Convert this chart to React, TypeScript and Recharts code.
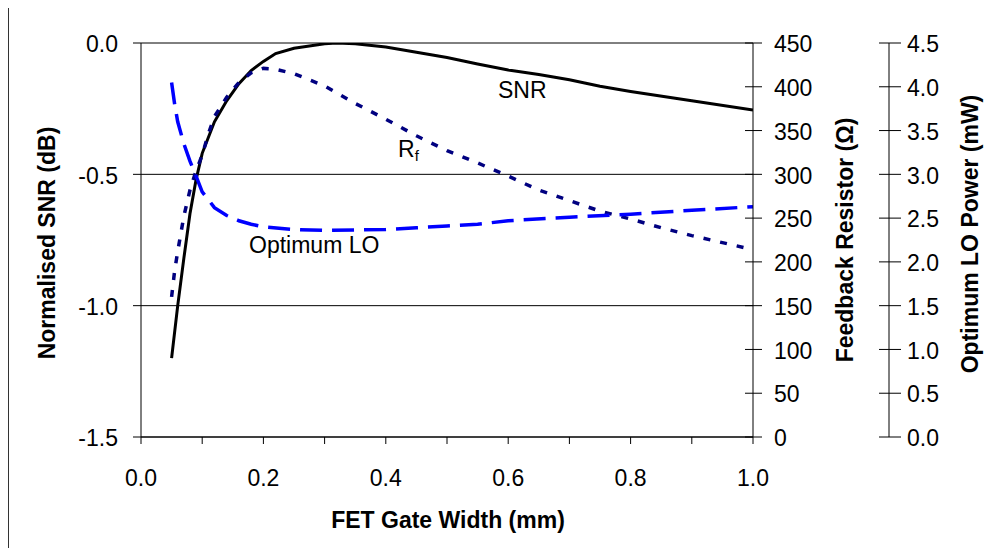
import { CartesianGrid, ComposedChart, Line, XAxis, YAxis } from 'recharts';

// FET gate width (mm) vs normalised SNR, feedback resistor and optimum LO power
const snrWidth = [0.05, 0.06, 0.07, 0.08, 0.09, 0.1, 0.12, 0.14, 0.16, 0.18, 0.2, 0.22, 0.25, 0.3, 0.32, 0.35, 0.4, 0.45, 0.5, 0.55, 0.6, 0.65, 0.7, 0.75, 0.8, 0.9, 1.0];
const snrDb = [-1.2, -1.0, -0.82, -0.65, -0.52, -0.42, -0.3, -0.22, -0.155, -0.105, -0.07, -0.04, -0.02, -0.003, 0.0, -0.003, -0.015, -0.035, -0.055, -0.08, -0.103, -0.12, -0.14, -0.165, -0.185, -0.22, -0.255];

const rfWidth = [0.05, 0.055, 0.06, 0.065, 0.07, 0.08, 0.09, 0.1, 0.11, 0.12, 0.14, 0.16, 0.18, 0.2, 0.22, 0.25, 0.3, 0.35, 0.4, 0.45, 0.5, 0.55, 0.6, 0.65, 0.7, 0.75, 0.8, 0.85, 0.9, 0.95, 1.0];
const rfOhm = [160, 190, 212, 232, 252, 282, 304, 322, 346, 366, 388, 405, 416, 421, 420, 415, 401, 381, 363, 344, 327, 313, 298, 282, 270, 258, 249, 239, 230, 222, 214];

const loWidth = [0.05, 0.055, 0.06, 0.07, 0.08, 0.09, 0.1, 0.12, 0.14, 0.16, 0.18, 0.2, 0.25, 0.3, 0.35, 0.4, 0.45, 0.5, 0.55, 0.6, 0.7, 0.8, 0.9, 1.0];
const loMw = [4.05, 3.8, 3.6, 3.35, 3.15, 2.98, 2.8, 2.62, 2.53, 2.47, 2.43, 2.4, 2.37, 2.36, 2.365, 2.37, 2.39, 2.41, 2.43, 2.47, 2.51, 2.545, 2.59, 2.63];

const widthTicks = [0, 0.1, 0.2, 0.3, 0.4, 0.5, 0.6, 0.7, 0.8, 0.9, 1.0];
const snrTicks = [-1.5, -1.0, -0.5, 0.0];
const rfTicks = [0, 50, 100, 150, 200, 250, 300, 350, 400, 450];
const loTicks = [0, 0.5, 1.0, 1.5, 2.0, 2.5, 3.0, 3.5, 4.0, 4.5];

const snrData = snrWidth.map((x, i) => ({ x, v: snrDb[i] }));
const rfData = rfWidth.map((x, i) => ({ x, v: rfOhm[i] }));
const loData = loWidth.map((x, i) => ({ x, v: loMw[i] }));

const font = '"Liberation Sans", Arial, Helvetica, sans-serif';
const tickFont = 23;

function BottomTick(props: any) {
  const { x, y, payload } = props;
  const v = payload.value as number;
  const major = Math.round(v * 10) % 2 === 0;
  return (
    <g>
      <line x1={x} x2={x} y1={y} y2={y + 7} stroke="#000" strokeWidth={1} />
      {major && (
        <text x={x} y={y + 49} textAnchor="middle" fontSize={tickFont} fontFamily={font} fill="#000">
          {v.toFixed(1)}
        </text>
      )}
    </g>
  );
}

function LeftTick(props: any) {
  const { x, y, payload } = props;
  return (
    <g>
      <line x1={x - 8} x2={x} y1={y} y2={y} stroke="#000" strokeWidth={1} />
      <text x={x - 23} y={y} dy="0.4em" textAnchor="end" fontSize={tickFont} fontFamily={font} fill="#000">
        {(payload.value as number).toFixed(1)}
      </text>
    </g>
  );
}

function makeRightTick(before: number, after: number, gap: number, digits: number) {
  return (props: any) => {
    const { x, y, payload } = props;
    return (
      <g>
        <line x1={x - before} x2={x + after} y1={y} y2={y} stroke="#000" strokeWidth={1} />
        <text x={x + gap} y={y} dy="0.4em" textAnchor="start" fontSize={tickFont} fontFamily={font} fill="#000">
          {(payload.value as number).toFixed(digits)}
        </text>
      </g>
    );
  };
}

const RfTick = makeRightTick(8, 9, 21, 0);
const LoTick = makeRightTick(10, 12, 18, 1);

export default function App() {
  return (
    <div style={{ position: 'relative', width: 1008, height: 556, margin: -8, fontFamily: font }}>
      <div
        style={{
          position: 'absolute',
          left: 7,
          top: 4,
          width: 1010,
          height: 560,
          borderLeft: '2px solid #333',
          borderTop: '2px solid #888',
        }}
      />
      <div style={{ position: 'absolute', left: 8, top: 5 }}>
        <ComposedChart width={1000} height={551} margin={{ top: 38, right: 19, bottom: 59, left: 53 }}>
          <CartesianGrid yAxisId="snr" vertical={false} stroke="#000" strokeWidth={1} />
          <XAxis
            dataKey="x"
            type="number"
            domain={[0, 1]}
            ticks={widthTicks}
            interval={0}
            height={60}
            tickSize={0}
            tickMargin={0}
            tickLine={false}
            axisLine={{ stroke: '#000' }}
            tick={BottomTick}
            allowDataOverflow
          />
          <YAxis
            yAxisId="snr"
            orientation="left"
            type="number"
            domain={[-1.5, 0]}
            ticks={snrTicks}
            interval={0}
            width={80}
            tickSize={0}
            tickMargin={0}
            tickLine={false}
            axisLine={{ stroke: '#000' }}
            tick={LeftTick}
            allowDataOverflow
          />
          <YAxis
            yAxisId="r1"
            orientation="right"
            type="number"
            domain={[0, 450]}
            ticks={rfTicks}
            interval={0}
            width={136}
            tickSize={0}
            tickMargin={0}
            tickLine={false}
            axisLine={{ stroke: '#000' }}
            tick={RfTick}
            allowDataOverflow
          />
          <YAxis
            yAxisId="r2"
            orientation="right"
            type="number"
            domain={[0, 4.5]}
            ticks={loTicks}
            interval={0}
            width={100}
            tickSize={0}
            tickMargin={0}
            tickLine={false}
            axisLine={{ stroke: '#000' }}
            tick={LoTick}
            allowDataOverflow
          />
          <Line
            data={snrData}
            dataKey="v"
            yAxisId="snr"
            type="linear"
            stroke="#000"
            strokeWidth={3}
            dot={false}
            activeDot={false}
            isAnimationActive={false}
          />
          <Line
            data={rfData}
            dataKey="v"
            yAxisId="r1"
            type="linear"
            stroke="#000080"
            strokeWidth={3.5}
            strokeDasharray="7 10"
            dot={false}
            activeDot={false}
            isAnimationActive={false}
          />
          <Line
            data={loData}
            dataKey="v"
            yAxisId="r2"
            type="linear"
            stroke="#0000ff"
            strokeWidth={3.5}
            strokeDasharray="22 10"
            dot={false}
            activeDot={false}
            isAnimationActive={false}
          />
        </ComposedChart>
      </div>
      <svg
        width={1008}
        height={556}
        style={{ position: 'absolute', left: 0, top: 0, pointerEvents: 'none' }}
        fontFamily={font}
      >
        <text transform="translate(47,243) rotate(-90)" textAnchor="middle" dominantBaseline="central" fontSize={23} fontWeight="bold" fill="#000">
          Normalised SNR (dB)
        </text>
        <text transform="translate(845,240) rotate(-90)" textAnchor="middle" dominantBaseline="central" fontSize={23} fontWeight="bold" fill="#000">
          Feedback Resistor (Ω)
        </text>
        <text transform="translate(970,234) rotate(-90)" textAnchor="middle" dominantBaseline="central" fontSize={23} fontWeight="bold" fill="#000">
          Optimum LO Power (mW)
        </text>
        <text x={448} y={520} textAnchor="middle" dominantBaseline="central" fontSize={23} fontWeight="bold" fill="#000">
          FET Gate Width (mm)
        </text>
        <text x={498} y={98} fontSize={23} fill="#000">
          SNR
        </text>
        <text x={398} y={157} fontSize={23} fill="#000">
          R
          <tspan fontSize={15} dy={4}>
            f
          </tspan>
        </text>
        <text x={249} y={253} fontSize={23} fill="#000">
          Optimum LO
        </text>
      </svg>
    </div>
  );
}
